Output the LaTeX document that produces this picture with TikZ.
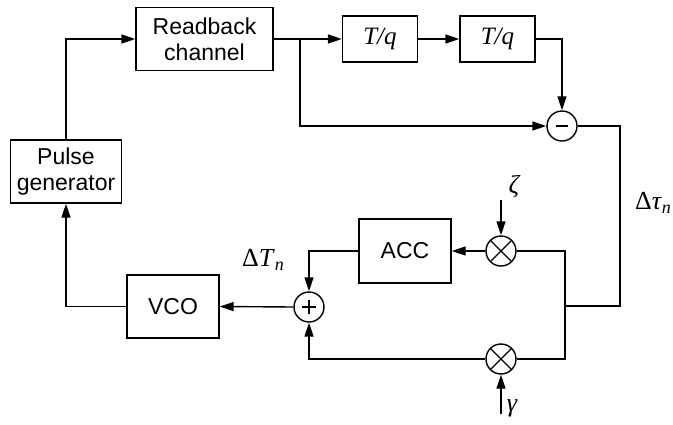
\documentclass[tikz,border=0pt]{standalone}
\usepackage{fontspec}
\setmainfont{Liberation Sans}
\newfontfamily\serifit{Liberation Serif}
\usetikzlibrary{arrows.meta}
\newcommand{\sub}[1]{\raisebox{-0.35ex}{\fontsize{18}{18}\selectfont\itshape #1}}
\begin{document}
\begin{tikzpicture}[x=1pt,y=-1pt, line width=1.4pt,
  blk/.style={draw, line width=1.4pt, inner sep=0pt, font=\fontsize{23}{26}\selectfont, align=center},
  tqbox/.style={draw, line width=1.4pt, inner sep=0pt, minimum width=75pt, minimum height=46pt, font=\serifit\itshape\fontsize{25}{28}\selectfont},
  sumc/.style={draw, circle, minimum size=30pt, inner sep=0pt, line width=1.4pt},
  lbl/.style={font=\serifit\fontsize{26}{28}\selectfont, inner sep=0pt},
  arr/.style={-{Triangle[length=14pt,width=9pt]}}]
\useasboundingbox (0,0) rectangle (673,424);

\node[blk, minimum width=137pt, minimum height=63pt] (rb) at (204.5,39) {Readback\\channel};
\node[blk, minimum width=111pt, minimum height=63pt] (pg) at (66,171.5) {Pulse\\generator};
\node[blk, minimum width=92pt, minimum height=63pt] (vco) at (173,306.5) {VCO};
\node[blk, minimum width=92pt, minimum height=64pt] (acc) at (405,251) {ACC};
\node[tqbox] (tq1) at (380,39) {T/q};
\node[tqbox] (tq2) at (497.5,39) {T/q};

\node[sumc] (minus) at (562,126) {};
\node[sumc] (plus) at (309,307) {};
\node[sumc] (m1) at (501,251) {};
\node[sumc] (m2) at (501,359) {};

% signs
\draw[line width=2.2pt] ([xshift=-6pt]minus.center) -- ([xshift=6pt]minus.center);
\draw[line width=2.2pt] ([xshift=-7pt]plus.center) -- ([xshift=7pt]plus.center);
\draw[line width=2.2pt] ([yshift=-7pt]plus.center) -- ([yshift=7pt]plus.center);
\foreach \m in {m1,m2}{
  \draw ([shift={(45:15pt)}]\m.center) -- ([shift={(225:15pt)}]\m.center);
  \draw ([shift={(135:15pt)}]\m.center) -- ([shift={(315:15pt)}]\m.center);
}

% coordinates
\coordinate (br) at (300,39);
\coordinate (rc) at (620,306);
\coordinate (j) at (565,306);
\coordinate (zt) at (501,200);
\coordinate (gb) at (501,414);

% connectors
\draw[arr] (pg.north) |- (rb.west);
\draw[arr] (rb.east) -- (tq1.west);
\draw[arr] (tq1.east) -- (tq2.west);
\draw[arr] (tq2.east) -| (minus.north);
\draw[arr] (br) |- (minus.west);
\draw (minus.east) -| (rc) -- (j);
\draw (m1.east) -| (j);
\draw (m2.east) -| (j);
\draw[arr] (m1.west) -- (acc.east);
\draw[arr] (acc.west) -| (plus.north);
\draw[arr] (m2.west) -| (plus.south);
\draw[arr] (plus.west) -- (vco.east);
\draw[arr] (vco.west) -| (pg.south);
\draw[arr] (zt) -- (m1.north);
\draw[arr] (gb) -- (m2.south);

% labels
\node[lbl] (lz) at (514,187) {\itshape ζ};
\node[lbl] (lg) at (512,408) {\itshape γ};
\node[lbl] (ldT) at (263,260) {Δ\textit{T}\sub{n}};
\node[lbl] (ldt) at (653,203) {Δ\textit{τ}\sub{n}};
\end{tikzpicture}
\end{document}
